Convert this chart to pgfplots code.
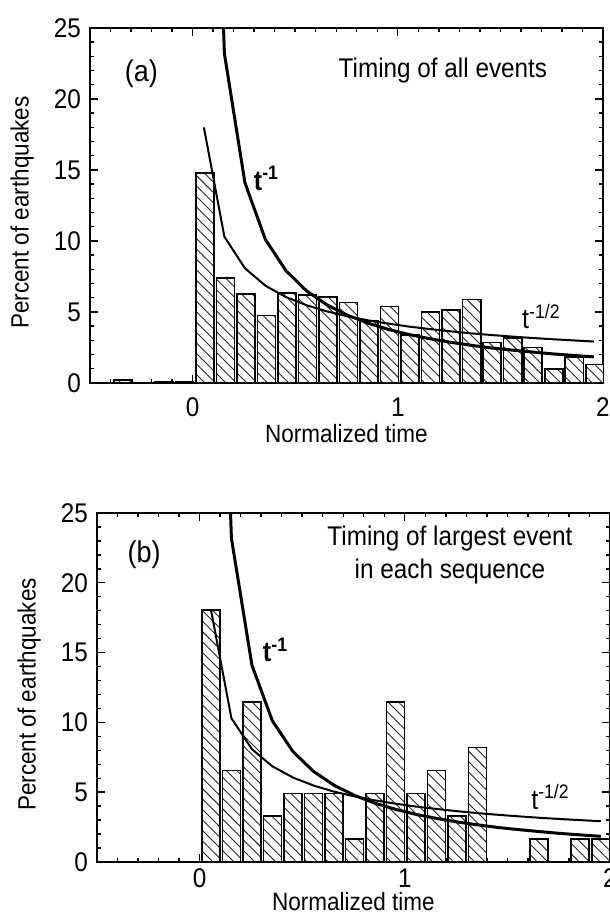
\documentclass[border=0pt]{standalone}
\usepackage{fontspec}
\setmainfont{Liberation Sans}[FakeStretch=0.9]
\usepackage{pgfplots}
\pgfplotsset{compat=1.18}
\usetikzlibrary{patterns.meta}

\pgfplotsset{
  panel/.style={
    scale only axis, width=256.5pt, anchor=south west,
    xmin=-0.5, xmax=2, ymin=0, ymax=25,
    xtick={0,1,2}, minor xtick={-0.4,-0.3,-0.2,-0.1,0.1,0.2,0.3,0.4,0.5,0.6,0.7,0.8,0.9,1.1,1.2,1.3,1.4,1.5,1.6,1.7,1.8,1.9},
    ytick={0,5,...,25}, minor ytick={1,2,3,4,6,7,8,9,11,12,13,14,16,17,18,19,21,22,23,24},
    tick align=inside,
    major tick length=4pt, minor tick length=2.2pt,
    tick style={black, line width=0.7pt},
    axis line style={line width=1pt},
    tick label style={font=\fontsize{13.5}{13.5}\selectfont},
    label style={font=\fontsize{12.5}{12.5}\selectfont},
    /pgf/number format/assume math mode=true,
    xlabel={Normalized time}, ylabel={Percent of earthquakes},
    ylabel style={at={(axis description cs:-0.132,0.48)}, anchor=center},
    yticklabel style={xshift=-1pt},
  },
  hbar/.style={ybar, bar width=0.088, bar shift=0pt, draw=black, line width=0.8pt,
    fill=white, postaction={pattern={Lines[angle=-45,distance=3.7pt,line width=0.45pt]}, pattern color=black!85}},
  tone/.style={black, line width=1.5pt},
  thalf/.style={black, line width=1pt},
}

\begin{document}
\begin{tikzpicture}
\useasboundingbox (0,0) rectangle (305pt,460.5pt);

% (a) all events
\begin{axis}[panel, at={(45pt,269pt)}, height=177.5pt,
  xlabel style={at={(axis description cs:0.5,-0.142)}, anchor=center},
  xticklabel style={yshift=-4pt}]
\addplot[hbar] coordinates {
  (-0.34,0.22) (-0.14,0.1) (-0.04,0.1)
  (0.06,14.8) (0.16,7.4) (0.26,6.28) (0.36,4.74) (0.46,6.35)
  (0.56,6.2) (0.66,6.05) (0.76,5.67) (0.86,4.37) (0.96,5.40)
  (1.06,3.38) (1.16,4.98) (1.26,5.14) (1.36,5.89) (1.46,2.86)
  (1.56,3.15) (1.66,2.49) (1.76,0.99) (1.86,1.85) (1.96,1.31)
};
\addplot[tone] coordinates {
  (0.055,65.5) (0.155,23.2) (0.255,14.1) (0.355,10.1) (0.455,7.91)
  (0.555,6.49) (0.655,5.50) (0.755,4.77) (0.855,4.21) (0.955,3.77)
  (1.055,3.41) (1.155,3.12) (1.255,2.87) (1.355,2.66) (1.455,2.47)
  (1.555,2.32) (1.655,2.18) (1.755,2.05) (1.855,1.94) (1.955,1.84)
};
\addplot[thalf] coordinates {
  (0.055,18.0) (0.155,10.3) (0.255,8.08) (0.355,6.85) (0.455,6.05)
  (0.555,5.48) (0.655,5.04) (0.755,4.70) (0.855,4.41) (0.955,4.18)
  (1.055,3.97) (1.155,3.80) (1.255,3.64) (1.355,3.50) (1.455,3.38)
  (1.555,3.27) (1.655,3.17) (1.755,3.08) (1.855,3.00) (1.955,2.92)
};
\node[font=\fontsize{15}{15}\selectfont] at (axis cs:-0.25,21.8) {(a)};
\node[font=\fontsize{13.5}{13.5}\selectfont] at (axis cs:1.22,22.0) {Timing of all events};
\node[font=\fontsize{14}{14}\selectfont] at (axis cs:0.36,14.4) {\textbf{t\textsuperscript{-1}}};
\node[font=\fontsize{14}{14}\selectfont] at (axis cs:1.70,4.7) {t\textsuperscript{-1/2}};
\end{axis}

% (b) largest event in each sequence
\begin{axis}[panel, at={(48.5pt,29.5pt)}, height=174.5pt,
  xlabel style={at={(axis description cs:0.5,-0.112)}, anchor=center},
  xticklabel style={yshift=0pt}]
\addplot[hbar] coordinates {
  (0.055,18.03) (0.155,6.56) (0.255,11.48) (0.355,3.28) (0.455,4.92)
  (0.555,4.92) (0.655,4.92) (0.755,1.64) (0.855,4.92) (0.955,11.48)
  (1.055,4.92) (1.155,6.56) (1.255,3.28) (1.355,8.20)
  (1.655,1.64) (1.855,1.64) (1.955,1.64)
};
\addplot[tone] coordinates {
  (0.055,65.5) (0.155,23.2) (0.255,14.1) (0.355,10.1) (0.455,7.91)
  (0.555,6.49) (0.655,5.50) (0.755,4.77) (0.855,4.21) (0.955,3.77)
  (1.055,3.41) (1.155,3.12) (1.255,2.87) (1.355,2.66) (1.455,2.47)
  (1.555,2.32) (1.655,2.18) (1.755,2.05) (1.855,1.94) (1.955,1.84)
};
\addplot[thalf] coordinates {
  (0.055,18.1) (0.155,10.3) (0.255,8.08) (0.355,6.85) (0.455,6.05)
  (0.555,5.48) (0.655,5.04) (0.755,4.70) (0.855,4.41) (0.955,4.18)
  (1.055,3.97) (1.155,3.80) (1.255,3.64) (1.355,3.50) (1.455,3.38)
  (1.555,3.27) (1.655,3.17) (1.755,3.08) (1.855,3.00) (1.955,2.92)
};
\node[font=\fontsize{15}{15}\selectfont] at (axis cs:-0.27,22.0) {(b)};
\node[font=\fontsize{13.5}{16.5}\selectfont, align=center] at (axis cs:1.22,22.0) {Timing of largest event\\in each sequence};
\node[font=\fontsize{14}{14}\selectfont] at (axis cs:0.37,15.2) {\textbf{t\textsuperscript{-1}}};
\node[font=\fontsize{14}{14}\selectfont] at (axis cs:1.71,4.65) {t\textsuperscript{-1/2}};
\end{axis}
\end{tikzpicture}
\end{document}
